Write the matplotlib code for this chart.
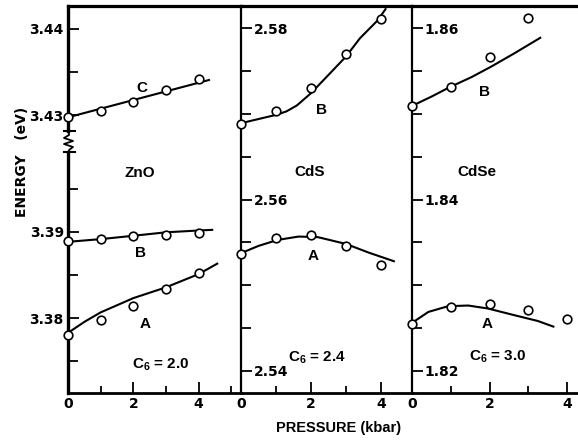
import matplotlib
matplotlib.use("Agg")
import matplotlib.pyplot as plt
from matplotlib.lines import Line2D

plt.rcParams['font.family'] = ['DejaVu Sans']
plt.rcParams['font.weight'] = 'bold'
plt.rcParams['mathtext.fontset'] = 'custom'
plt.rcParams['mathtext.bf'] = 'Liberation Sans:bold'
plt.rcParams['mathtext.rm'] = 'Liberation Sans:bold'

# ---- data (pressure in kbar, energy in eV) ----
# ZnO, exciton C (upper part of broken axis)
zno_c_p = [0, 1, 2, 3, 4]
zno_c_e = [3.42977, 3.43050, 3.43155, 3.43287, 3.43422]
zno_c_fit_p = [0, 4.35]
zno_c_fit_e = [3.42973, 3.43410]

# ZnO, excitons B and A
zno_b_p = [0, 1, 2, 3, 4]
zno_b_e = [3.38888, 3.38919, 3.38946, 3.38965, 3.38985]
zno_b_fit_p = [0, 1, 2, 3, 4, 4.45]
zno_b_fit_e = [3.38884, 3.38915, 3.38954, 3.38994, 3.39015, 3.39023]

zno_a_p = [0, 1, 2, 3, 4]
zno_a_e = [3.37806, 3.37980, 3.38146, 3.38340, 3.38521]
zno_a_fit_p = [0, 0.5, 1, 2, 3, 4, 4.6]
zno_a_fit_e = [3.37830, 3.37957, 3.38067, 3.38232, 3.38357, 3.38510, 3.38637]

# CdS
cds_b_p = [0, 1, 2, 3, 4]
cds_b_e = [2.56884, 2.57039, 2.57307, 2.57697, 2.58105]
cds_b_fit_p = [0, 0.4, 1, 1.3, 1.6, 2, 2.5, 3, 3.4, 3.9, 4.15]
cds_b_fit_e = [2.56892, 2.56931, 2.56989, 2.57030, 2.57100, 2.57242,
               2.57455, 2.57669, 2.57883, 2.58089, 2.58233]

cds_a_p = [0, 1, 2, 3, 4]
cds_a_e = [2.55363, 2.55557, 2.55588, 2.55464, 2.55238]
cds_a_fit_p = [0, 0.5, 1.05, 1.65, 2.2, 3, 3.65, 4.4]
cds_a_fit_e = [2.55375, 2.55460, 2.55530, 2.55569, 2.55562, 2.55483,
               2.55382, 2.55277]

# CdSe
cdse_b_p = [0, 1, 2, 3]
cdse_b_e = [1.85094, 1.85312, 1.85669, 1.86117]
cdse_b_fit_p = [0, 0.5, 0.97, 1.53, 2.04, 2.64, 3.33]
cdse_b_fit_e = [1.85094, 1.85202, 1.85312, 1.85429, 1.85552, 1.85708, 1.85895]

cdse_a_p = [0, 1, 2, 3, 4]
cdse_a_e = [1.82554, 1.82748, 1.82776, 1.82717, 1.82601]
cdse_a_fit_p = [0, 0.42, 0.93, 1.45, 1.96, 2.64, 3.24, 3.67]
cdse_a_fit_e = [1.82561, 1.82689, 1.82756, 1.82764, 1.82729, 1.82651,
                1.82584, 1.82514]

W, H = 578, 440
fig = plt.figure(figsize=(W / 100, H / 100), dpi=100)


def px_axes(x0, y0, x1, y1):
    # axes from pixel box (top-left origin)
    return fig.add_axes([x0 / W, 1 - y1 / H, (x1 - x0) / W, (y1 - y0) / H])


ax1u = px_axes(68, 6, 241, 141)
ax1l = px_axes(68, 141, 241, 393)
ax2 = px_axes(241, 6, 412, 393)
ax3 = px_axes(412, 6, 578, 393)

mk = dict(marker='o', ls='none', ms=6.2, mfc='white', mec='black',
          mew=1.2, clip_on=False, zorder=5)
ln = dict(color='black', lw=1.5, solid_capstyle='butt', zorder=4)


def series(ax, fp, fe, p, e):
    ax.plot(fp, fe, **ln)
    ax.plot(p, e, **mk)


series(ax1u, zno_c_fit_p, zno_c_fit_e, zno_c_p, zno_c_e)
series(ax1l, zno_b_fit_p, zno_b_fit_e, zno_b_p, zno_b_e)
series(ax1l, zno_a_fit_p, zno_a_fit_e, zno_a_p, zno_a_e)
series(ax2, cds_b_fit_p, cds_b_fit_e, cds_b_p, cds_b_e)
series(ax2, cds_a_fit_p, cds_a_fit_e, cds_a_p, cds_a_e)
series(ax3, cdse_b_fit_p, cdse_b_fit_e, cdse_b_p, cdse_b_e)
series(ax3, cdse_a_fit_p, cdse_a_fit_e, cdse_a_p, cdse_a_e)

# limits
ax1u.set_xlim(0, 5.3)
ax1l.set_xlim(0, 5.3)
ax2.set_xlim(0, 4.89)
ax3.set_xlim(0, 4.28)
ax1u.set_ylim(3.42698, 3.44267)
ax1l.set_ylim(3.37134, 3.40051)
ax2.set_ylim(2.53743, 2.5826)
ax3.set_ylim(1.81743, 1.8626)

for ax in (ax1u, ax1l, ax2, ax3):
    ax.patch.set_visible(False)
    ax.spines['right'].set_visible(False)
    ax.tick_params(which='both', direction='in', width=1.3, labelsize=10,
                   top=False, right=False)
    ax.tick_params(which='major', length=8)
    ax.tick_params(which='minor', length=7)
    ax.tick_params(axis='x', which='major', pad=3)
    ax.tick_params(axis='x', which='minor', length=5)

# spines
for ax in (ax1u, ax2, ax3):
    ax.spines['top'].set_linewidth(2.3)
for ax in (ax1l, ax2, ax3):
    ax.spines['bottom'].set_linewidth(2.0)
ax1u.spines['bottom'].set_visible(False)
ax1l.spines['top'].set_visible(False)
ax1u.spines['left'].set_linewidth(2.4)
ax1l.spines['left'].set_linewidth(2.4)
ax2.spines['left'].set_linewidth(1.6)
ax3.spines['left'].set_linewidth(1.6)
ax1u.spines['left'].set_bounds(3.42814, 3.44267)
ax1l.spines['left'].set_bounds(3.37134, 3.39924)

# ticks
ax1u.set_xticks([])
ax1u.set_yticks([3.43, 3.44], ['3.43', '3.44'])
ax1u.set_yticks([3.435], minor=True)
ax1l.set_yticks([3.38, 3.39], ['3.38', '3.39'])
ax1l.set_yticks([3.375, 3.385, 3.395], minor=True)
ax1l.set_xticks([0, 2, 4], ['0', '2', '4'])
ax1l.set_xticks([1, 3, 5], minor=True)

ax2.set_yticks([2.54, 2.56, 2.58], ['2.54', '2.56', '2.58'])
ax2.set_yticks([2.545, 2.55, 2.555, 2.565, 2.57, 2.575], minor=True)
ax2.set_xticks([0, 2, 4], ['0', '2', '4'])
ax2.set_xticks([1, 3], minor=True)

ax3.set_yticks([1.82, 1.84, 1.86], ['1.82', '1.84', '1.86'])
ax3.set_yticks([1.825, 1.83, 1.835, 1.845, 1.85, 1.855], minor=True)
ax3.set_xticks([0, 2, 4], ['0', '2', '4'])
ax3.set_xticks([1, 3], minor=True)

# labels inside the panel, just right of the spine, for CdS and CdSe
for ax in (ax2, ax3):
    ax.tick_params(axis='y', which='major', pad=-9)
    for lbl in ax.get_yticklabels():
        lbl.set_horizontalalignment('left')

for ax in (ax1u, ax1l):
    ax.tick_params(axis='y', which='major', pad=3)

# panel annotations
tk = dict(fontsize=11, fontweight='bold', ha='center', va='center',
          family='Liberation Sans')
ax1u.text(2.26, 3.4331, 'C', **tk)
ax1l.text(2.2, 3.3968, 'ZnO', **tk)
ax1l.text(2.23, 3.3875, 'B', **tk)
ax1l.text(2.36, 3.3793, 'A', **tk)
ax1l.text(2.84, 3.3746, r'C$_{\mathbf{6}}$ = 2.0', **tk)

ax2.text(2.31, 2.57047, 'B', **tk)
ax2.text(1.97, 2.56328, 'CdS', **tk)
ax2.text(2.07, 2.55337, 'A', **tk)
ax2.text(2.16, 2.54152, r'C$_{\mathbf{6}}$ = 2.4', **tk)

ax3.text(1.88, 1.85261, 'B', **tk)
ax3.text(1.67, 1.84328, 'CdSe', **tk)
ax3.text(1.94, 1.82546, 'A', **tk)
ax3.text(2.22, 1.82173, r'C$_{\mathbf{6}}$ = 3.0', **tk)

# axis titles
fig.text(22 / W, 1 - 162 / H, 'ENERGY   (eV)', rotation=90, fontsize=10,
         fontweight='bold', ha='center', va='center')
fig.text(339 / W, 1 - 428 / H, 'PRESSURE (kbar)', fontsize=10.5,
         fontweight='bold', ha='center', va='center',
         family='Liberation Sans')

# break mark on the ZnO energy axis
bx = [69, 69, 64, 73, 64, 73, 69, 69]
by = [131, 135, 138, 141, 144, 147, 150, 152]
fig.add_artist(Line2D([x / W for x in bx], [1 - y / H for y in by],
                      color='black', lw=1.3))
for yy in (131, 152):
    fig.add_artist(Line2D([64 / W, 75 / W], [1 - yy / H, 1 - yy / H],
                          color='black', lw=1.5))

plt.savefig('out.png', dpi=100)
